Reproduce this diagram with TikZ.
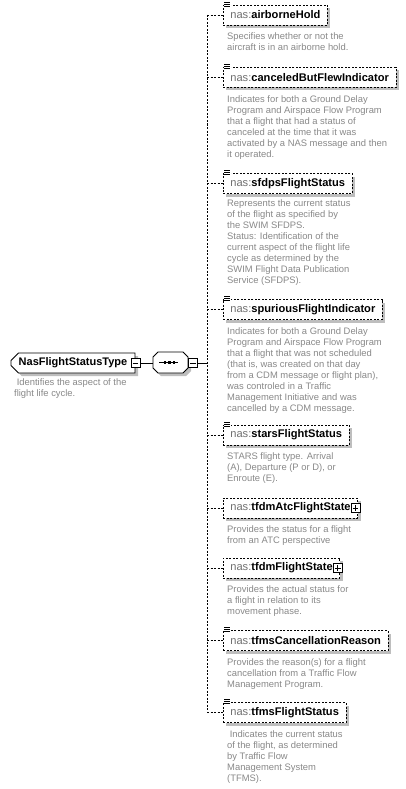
\documentclass[tikz,border=0pt]{standalone}
\usepackage{fontspec}
\setmainfont{Liberation Sans}
\usetikzlibrary{calc,shadows,shapes.misc}
\definecolor{desc}{RGB}{136,136,136}
\definecolor{nsgray}{RGB}{112,112,112}
\definecolor{shadowc}{RGB}{190,190,190}
\tikzset{
  shad/.style={drop shadow={shadow xshift=3pt,shadow yshift=-3pt,fill=shadowc,opacity=1}},
  elem/.style={draw,dash pattern=on 2pt off 1.5pt,line width=0.8pt,fill=white,shad,
    minimum height=20pt,inner xsep=7pt,inner ysep=0pt,anchor=west,
    font=\fontsize{11.1}{12}\selectfont},
  dsc/.style={anchor=north west,align=left,inner sep=0pt,text=desc,
    font=\fontsize{9.4}{11}\selectfont},
  conn/.style={dash pattern=on 2pt off 1.5pt,line width=0.8pt},
  solidc/.style={line width=0.8pt},
  pm/.style={draw,fill=white,minimum size=9pt,inner sep=0pt,line width=0.7pt},
  typebox/.style={draw,fill=white,shad,chamfered rectangle,
    chamfered rectangle corners={north west,south west},chamfered rectangle xsep=4pt,
    minimum width=124pt,minimum height=20pt,inner sep=0pt,line width=0.8pt,
    font=\bfseries\fontsize{11}{13}\selectfont},
  seqbox/.style={draw,fill=white,shad,line width=0.8pt},
  dot/.style={fill=black,inner sep=0pt,minimum size=2.6pt}
}
\newcommand{\nsname}[1]{\textcolor{nsgray}{nas:}\textbf{#1}}
\newcommand{\simpleicon}[1]{%
  \fill[white] ([xshift=0.5pt,yshift=3.5pt]#1.north west) rectangle ([xshift=7.5pt,yshift=-2.5pt]#1.north west);
  \foreach \d in {2.5,0.5,-1.5}{\draw[line width=0.6pt] ([xshift=1pt,yshift=\d pt]#1.north west) -- ([xshift=7pt,yshift=\d pt]#1.north west);}}
\newcommand{\plusbox}[2]{%
  \node[pm] (#2) at ([xshift=-2.5pt]#1.east) {};
  \draw[line width=0.7pt] ([xshift=2pt]#2.west) -- ([xshift=-2pt]#2.east);
  \draw[line width=0.7pt] ([yshift=-2pt]#2.north) -- ([yshift=2pt]#2.south);}
\begin{document}
\begin{tikzpicture}[x=1pt,y=-1pt]
\useasboundingbox (0,0) rectangle (406,789);
\coordinate (spine) at (207,0);

% type and sequence
\node[typebox] (type) at (73,363) {NasFlightStatusType};
\node[pm] (tm) at (type.east) {};
\draw[line width=0.7pt] ([xshift=2pt]tm.west) -- ([xshift=-2pt]tm.east);
\node[dsc] (typed) at (14,378.5) {\ Identifies the aspect of the\\flight life cycle.};
\path[seqbox] (158,352) -- (183,352) -- (188,357) -- (188,368) -- (183,373)
  -- (158,373) -- (153,368) -- (153,357) -- cycle;
\coordinate (seqw) at (153,362.5);
\coordinate (seqe) at (188,362.5);
\draw[line width=1pt] (159,362.5) -- (178,362.5);
\node[dot] (d1) at (165,362.5) {};
\node[dot] (d2) at (169.5,362.5) {};
\node[dot] (d3) at (174,362.5) {};
\node[pm] (sm) at (193,363) {};
\draw[line width=0.7pt] ([xshift=2pt]sm.west) -- ([xshift=-2pt]sm.east);
\coordinate (join) at (207,363);
\draw[solidc] (tm.east) -- (seqw |- tm.east);
\draw[solidc] (sm.east) -- (join);

% elements
\node[elem] (e1) at (223,15) {\nsname{airborneHold}};
\node[elem] (e2) at (223,77.5) {\nsname{canceledButFlewIndicator}};
\node[elem] (e3) at (223,183.5) {\nsname{sfdpsFlightStatus}};
\node[elem] (e4) at (223,309.5) {\nsname{spuriousFlightIndicator}};
\node[elem] (e5) at (223,435) {\nsname{starsFlightStatus}};
\node[elem] (e6) at (223,508) {\nsname{tfdmAtcFlightState}\hspace{11pt}};
\node[elem] (e7) at (223,568) {\nsname{tfdmFlightState}\hspace{11pt}};
\node[elem] (e8) at (223,640.5) {\nsname{tfmsCancellationReason}};
\node[elem] (e9) at (223,712.5) {\nsname{tfmsFlightStatus}};
\plusbox{e6}{p6}
\plusbox{e7}{p7}
\foreach \n in {e1,e2,e3,e4,e5,e8,e9}{\simpleicon{\n}}

% spine and branches
\draw[conn] (e1.west -| spine) -- (e9.west -| spine);
\foreach \n in {e1,e2,e3,e4,e5,e6,e7,e8,e9}{\draw[conn] (\n.west -| spine) -- (\n.west);}

% descriptions
\node[dsc] (t1) at (227,32.5) {Specifies whether or not the\\aircraft is in an airborne hold.};
\node[dsc] (t2) at (227,95) {Indicates for both a Ground Delay\\Program and Airspace Flow Program\\that a flight that had a status of\\canceled at the time that it was\\activated by a NAS message and then\\it operated.};
\node[dsc] (t3) at (227,199) {Represents the current status\\of the flight as specified by\\the SWIM SFDPS.\\Status: Identification of the\\current aspect of the flight life\\cycle as determined by the\\SWIM Flight Data Publication\\Service (SFDPS).};
\node[dsc] (t4) at (227,327) {Indicates for both a Ground Delay\\Program and Airspace Flow Program\\that a flight that was not scheduled\\(that is, was created on that day\\from a CDM message or flight plan),\\was controled in a Traffic\\Management Initiative and was\\cancelled by a CDM message.};
\node[dsc] (t5) at (227,452.5) {STARS flight type. Arrival\\(A), Departure (P or D), or\\Enroute (E).};
\node[dsc] (t6) at (227,525.5) {Provides the status for a flight\\from an ATC perspective};
\node[dsc] (t7) at (227,585.5) {Provides the actual status for\\a flight in relation to its\\movement phase.};
\node[dsc] (t8) at (227,658) {Provides the reason(s) for a flight\\cancellation from a Traffic Flow\\Management Program.};
\node[dsc] (t9) at (227,730) {\ Indicates the current status\\of the flight, as determined\\by Traffic Flow\\Management System\\(TFMS).};
\end{tikzpicture}
\end{document}
